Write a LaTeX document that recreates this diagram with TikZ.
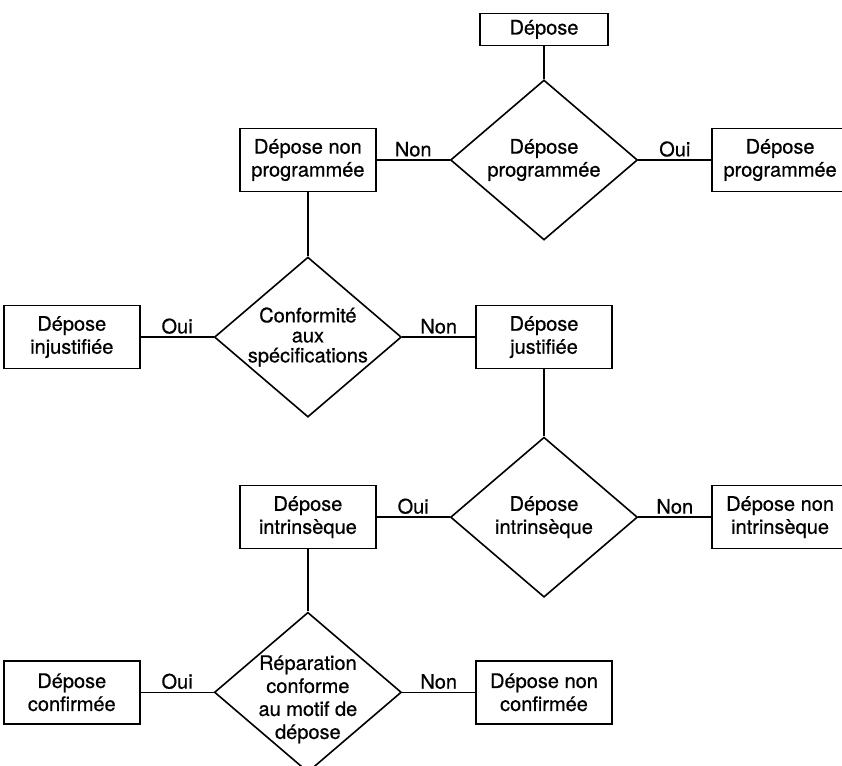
\documentclass[tikz,border=0pt]{standalone}
\usepackage{fontspec}
\setmainfont{TeX Gyre Heros}[FakeBold=0.6]
\usetikzlibrary{positioning,shapes.geometric}
\tikzset{
  bx/.style={draw, line width=1.6pt, minimum width=136pt, minimum height=63pt, align=center, inner sep=2pt},
  tbx/.style={bx, minimum width=128pt, minimum height=32pt},
  dec/.style={draw, diamond, line width=1.6pt, minimum width=187pt, minimum height=160pt, inner sep=0pt},
  dtx/.style={align=center, inner sep=0pt},
  ln/.style={line width=1.6pt},
  yn/.style={above, inner sep=2.5pt},
}

\begin{document}
\begin{tikzpicture}[x=1pt, y=1pt, node distance=73pt, font=\fontsize{20}{23}\selectfont]
\useasboundingbox (0,0) rectangle (842,765);
\node[dec, label={[dtx]center:Dépose\\programmée}] (dprog) at (544,605) {};
\node[tbx, above=33pt of dprog] (dep) {Dépose};
\node[bx, right=of dprog] (prog) {Dépose\\programmée};
\node[bx, left=of dprog] (nprog) {Dépose non\\programmée};
\node[dec, below=64pt of nprog, label={[dtx]center:Conformité\\[-3pt]aux\\[-3pt]spécifications}] (conf) {};
\node[bx, left=of conf] (injust) {Dépose\\injustifiée};
\node[bx, right=of conf] (just) {Dépose\\justifiée};
\node[dec, below=67pt of just, label={[dtx]center:Dépose\\intrinsèque}] (dintr) {};
\node[bx, left=of dintr] (intr) {Dépose\\intrinsèque};
\node[bx, right=of dintr] (nintr) {Dépose non\\intrinsèque};
\node[dec, below=62pt of intr, label={[dtx, yshift=-7pt]center:Réparation\\conforme\\au motif de\\dépose}] (rep) {};
\node[bx, left=of rep] (conf2) {Dépose\\confirmée};
\node[bx, right=of rep] (nconf) {Dépose non\\confirmée};
\draw[ln] (dep.south) -- (dprog.north);
\draw[ln] (dprog.east) -- node[yn] {Oui} (prog.west);
\draw[ln] (nprog.east) -- node[yn] {Non} (dprog.west);
\draw[ln] (nprog.south) -- (conf.north);
\draw[ln] (injust.east) -- node[yn] {Oui} (conf.west);
\draw[ln] (conf.east) -- node[yn] {Non} (just.west);
\draw[ln] (just.south) -- (dintr.north);
\draw[ln] (intr.east) -- node[yn] {Oui} (dintr.west);
\draw[ln] (dintr.east) -- node[yn] {Non} (nintr.west);
\draw[ln] (intr.south) -- (rep.north);
\draw[ln] (conf2.east) -- node[yn] {Oui} (rep.west);
\draw[ln] (rep.east) -- node[yn] {Non} (nconf.west);
\end{tikzpicture}
\end{document}
